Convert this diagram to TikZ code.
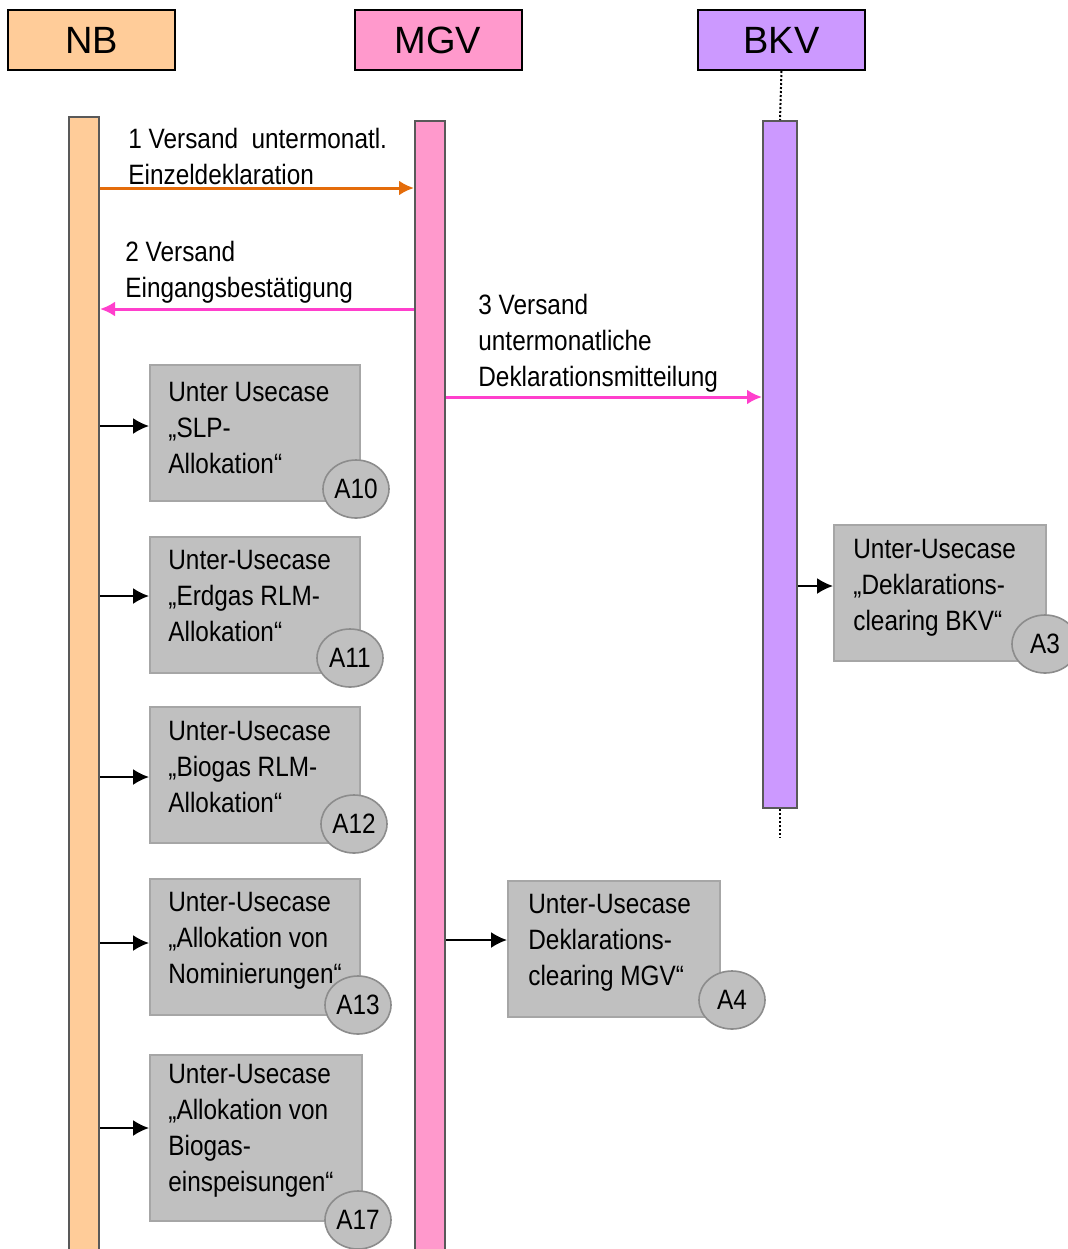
\documentclass[tikz,border=0pt]{standalone}
\usepackage{fontspec}
\setmainfont{Liberation Sans}
\newfontfamily\condfont{Liberation Sans}[FakeStretch=0.87]
\usetikzlibrary{positioning}
\usetikzlibrary{arrows.meta}
\usetikzlibrary{shapes.geometric}
\definecolor{nbcol}{HTML}{FFCC99}
\definecolor{mgvcol}{HTML}{FF99CC}
\definecolor{bkvcol}{HTML}{CC99FF}
\definecolor{ucgray}{HTML}{C0C0C0}
\definecolor{ucline}{HTML}{A6A6A6}
\definecolor{numline}{HTML}{8C8C8C}
\definecolor{barline}{HTML}{595959}
\definecolor{msgorange}{HTML}{E46C0A}
\definecolor{msgpink}{HTML}{FF3FCC}

\begin{document}
\begin{tikzpicture}[x=0.5pt,y=-0.5pt,
    head/.style={draw,line width=1pt,minimum width=83.5pt,minimum height=30pt,inner sep=0,
        font=\fontsize{19}{21}\selectfont},
    lifebar/.style={draw=barline,line width=1pt,minimum width=15pt,inner sep=0,anchor=north},
    ucbox/.style={draw=ucline,fill=ucgray,line width=0.8pt,minimum width=105pt,
        minimum height=68pt,anchor=north west,inner sep=0},
    ucnum/.style={ellipse,draw=numline,fill=ucgray,line width=0.8pt,minimum width=33pt,
        minimum height=29pt,inner sep=0,font=\condfont\fontsize{14}{18}\selectfont},
    txt/.style={anchor=north west,align=left,inner sep=0,font=\condfont\fontsize{14}{18}\selectfont},
    call/.style={-{Latex[length=8pt,width=8pt]},line width=1pt},
    msg/.style={-{Latex[length=7.5pt,width=7.5pt]},line width=1.5pt}]
    \useasboundingbox (0,0) rectangle (1067,1249);

    % roles
    \node[head,fill=nbcol]  (nb)  at (91.5,40)  {NB};
    \node[head,fill=mgvcol] (mgv) at (438,40)   {MGV};
    \node[head,fill=bkvcol] (bkv) at (781.5,40) {BKV};

    % lifelines
    \node[lifebar,fill=nbcol,minimum height=580pt]    (nbbar)  at (84,116)  {};
    \node[lifebar,fill=mgvcol,minimum height=580pt]   (mgvbar) at (430,120) {};
    \node[lifebar,fill=bkvcol,minimum width=17pt,minimum height=343.5pt] (bkvbar) at (780,120) {};
    \coordinate (bkvend) at (780,838);
    \draw[densely dotted,line width=1pt] (bkv.south) -- (bkvbar.north);
    \draw[densely dotted,line width=1pt] (bkvbar.south) -- (bkvend);

    % messages
    \node[txt] (m1) at (128,128) {1 Versand\ \ untermonatl.\\Einzeldeklaration};
    \draw[msg,msgorange] (nbbar.east |- 0,188) -- (mgvbar.west |- 0,188);
    \node[txt] (m2) at (125,241) {2 Versand\\Eingangsbestätigung};
    \draw[msg,msgpink] (mgvbar.west |- 0,309) -- (nbbar.east |- 0,309);
    \node[txt] (m3) at (478,294) {3 Versand\\untermonatliche\\Deklarationsmitteilung};
    \draw[msg,msgpink] (mgvbar.east |- 0,397) -- (bkvbar.west |- 0,397);

    % sub use cases NB
    \node[ucbox] (a10) at (149,364) {};
    \node[txt] (a10t) at (168,382) {Unter Usecase\\„SLP-\\Allokation“};
    \node[ucnum] (a10n) at (356,489) {A10};
    \draw[call] (nbbar.east |- 0,426) -- (a10.west |- 0,426);

    \node[ucbox] (a11) at (149,536) {};
    \node[txt] (a11t) at (168,550) {Unter-Usecase\\„Erdgas RLM-\\Allokation“};
    \node[ucnum] (a11n) at (350,658) {A11};
    \draw[call] (nbbar.east |- 0,596) -- (a11.west |- 0,596);

    \node[ucbox] (a12) at (149,706) {};
    \node[txt] (a12t) at (168,721) {Unter-Usecase\\„Biogas RLM-\\Allokation“};
    \node[ucnum] (a12n) at (354,824) {A12};
    \draw[call] (nbbar.east |- 0,777) -- (a12.west |- 0,777);

    \node[ucbox] (a13) at (149,878) {};
    \node[txt] (a13t) at (168,892) {Unter-Usecase\\„Allokation von\\Nominierungen“};
    \node[ucnum] (a13n) at (358,1005) {A13};
    \draw[call] (nbbar.east |- 0,943) -- (a13.west |- 0,943);

    \node[ucbox,minimum width=106pt,minimum height=83pt] (a17) at (149,1054) {};
    \node[txt] (a17t) at (168,1064) {Unter-Usecase\\„Allokation von\\Biogas-\\einspeisungen“};
    \node[ucnum] (a17n) at (358,1220) {A17};
    \draw[call] (nbbar.east |- 0,1128) -- (a17.west |- 0,1128);

    % sub use cases MGV / BKV
    \node[ucbox,minimum width=106pt] (a4) at (507,880) {};
    \node[txt] (a4t) at (528,894) {Unter-Usecase\\Deklarations-\\clearing MGV“};
    \node[ucnum] (a4n) at (732,1000) {A4};
    \draw[call] (mgvbar.east |- 0,940) -- (a4.west |- 0,940);

    \node[ucbox,minimum width=106pt] (a3) at (833,524) {};
    \node[txt] (a3t) at (853,539) {Unter-Usecase\\„Deklarations-\\clearing BKV“};
    \node[ucnum] (a3n) at (1045,644) {A3};
    \draw[call] (bkvbar.east |- 0,586) -- (a3.west |- 0,586);
\end{tikzpicture}
\end{document}
